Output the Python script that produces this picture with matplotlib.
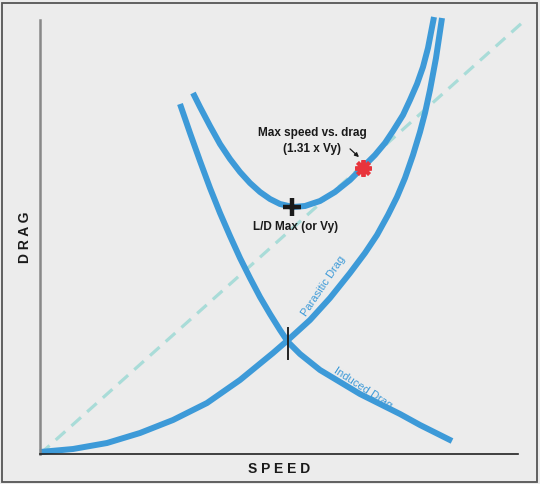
import matplotlib
matplotlib.use('Agg')
import matplotlib.pyplot as plt
from matplotlib.patches import Rectangle

plt.rcParams['font.family'] = ['Liberation Sans', 'DejaVu Sans']

# speed / drag values (arbitrary units)
par_speed = [0, 33, 67, 100, 133, 167, 200, 233, 248, 270, 290, 310, 325, 337, 348,
             357, 365, 373, 380, 385, 390, 396, 402]
par_drag = [2, 5, 11, 21, 34, 51, 74, 101, 114, 134, 156, 181, 201, 219, 239,
            257, 276, 299, 322, 341, 364, 396, 436]

ind_speed = [140, 150, 160, 170, 180, 190, 200, 210, 220, 230, 240, 248, 260, 280,
             300, 320, 340, 360, 380, 412]
ind_drag = [350, 321, 293, 266, 241, 218, 196, 176, 157, 140, 124, 112, 100, 84,
            72, 60, 50, 40, 29, 13]

tot_speed = [153, 160, 170, 180, 190, 200, 210, 220, 230, 240, 253, 265, 280, 295,
             310, 323, 335, 345, 353, 363, 370, 377, 383, 388, 394]
tot_drag = [361, 347, 328, 310, 295, 282, 271, 262, 255, 250, 247, 248, 253, 262,
            274, 287, 299, 311, 323, 339, 354, 370, 387, 406, 437]

ref_speed = [0, 483]
ref_drag = [0, 432]

ld_max = (252, 247)
max_speed = (323, 286)
cross = (248, 111)

blue = '#3d9ad8'
bg = '#ececec'

fig = plt.figure(figsize=(5.4, 4.84), dpi=100)
fig.patch.set_facecolor(bg)
fig.patches.append(Rectangle((2/540, 2/484), 535/540, 479/484, transform=fig.transFigure,
                             fill=False, edgecolor='#555555', lw=1.3))

ax = fig.add_axes([40/540, 30/484, 478/540, 434/484])
ax.set_facecolor(bg)
ax.set_xlim(0, 478)
ax.set_ylim(0, 434)

ax.plot(ref_speed, ref_drag, color='#a9dcd8', lw=2.3, dashes=(4, 2.6), clip_on=False)
for xs, ys in [(par_speed, par_drag), (ind_speed, ind_drag), (tot_speed, tot_drag)]:
    ax.plot(xs, ys, color=blue, lw=4.3, clip_on=False,
            solid_capstyle='butt', solid_joinstyle='round')

ax.plot([cross[0], cross[0]], [cross[1] - 16, cross[1] + 15], color='#222222', lw=1.4)
ax.plot(*ld_max, marker='+', color='#1a1a1a', ms=13, mew=3.2)
ax.plot(*max_speed, marker=(8, 2, 0), color='#e8343c', ms=12, mew=2.8)

ax.text(272, 321, 'Max speed vs. drag', ha='center', va='center', fontsize=8.5, fontweight='bold', color='#1a1a1a')
ax.text(272, 305, '(1.31 x Vy)', ha='center', va='center', fontsize=8.5, fontweight='bold', color='#1a1a1a')
ax.annotate('', xy=(321, 295), xytext=(308, 307),
            arrowprops=dict(arrowstyle='-|>', color='#1a1a1a', lw=0.9, mutation_scale=6))
ax.text(256, 227, 'L/D Max (or Vy)', ha='center', va='center', fontsize=8.5, fontweight='bold', color='#1a1a1a')
ax.text(283, 168, 'Parasitic Drag', ha='center', va='center', fontsize=8, color=blue, rotation=56)
ax.text(323, 66, 'Induced Drag', ha='center', va='center', fontsize=8, color=blue, rotation=-33)

for s in ['top', 'right']:
    ax.spines[s].set_visible(False)
ax.spines['left'].set_color('#888888')
ax.spines['left'].set_linewidth(1.8)
ax.spines['bottom'].set_color('#222222')
ax.spines['bottom'].set_linewidth(1.2)
ax.set_xticks([])
ax.set_yticks([])
ax.set_xlabel('S P E E D', fontsize=10, fontweight='bold', color='#1a1a1a', labelpad=6)
ax.set_ylabel('D R A G', fontsize=10, fontweight='bold', color='#1a1a1a', labelpad=6)

plt.savefig('out.png', dpi=100, facecolor=bg)
